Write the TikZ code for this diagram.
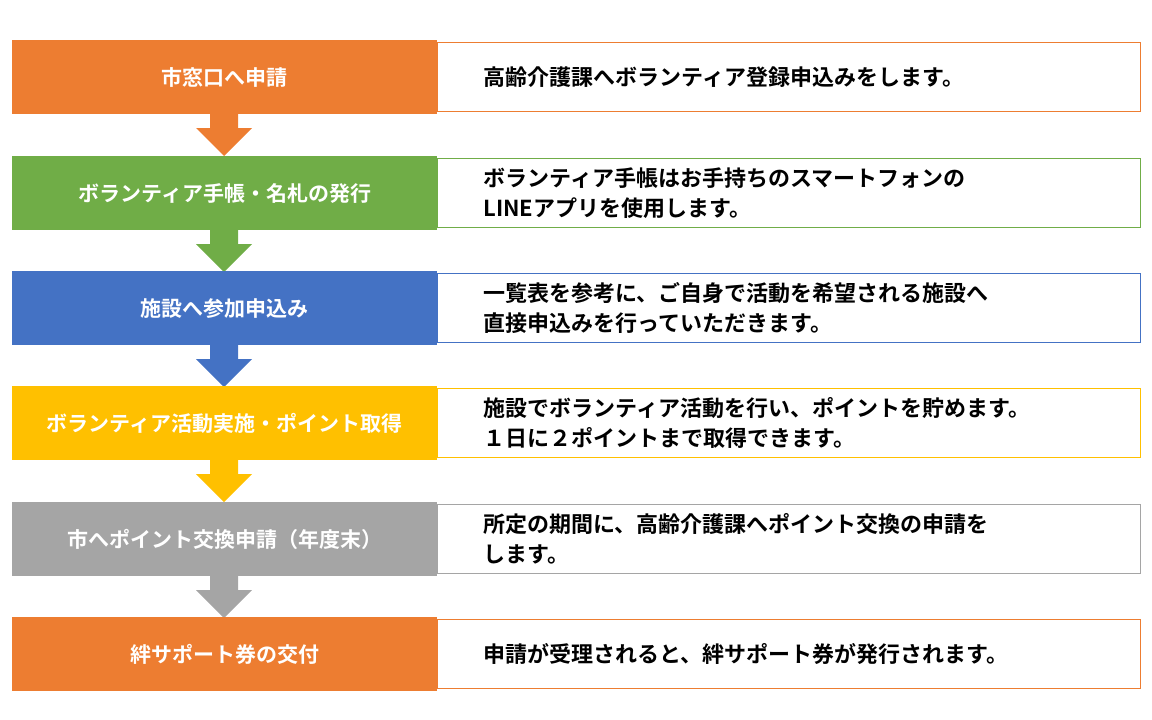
\documentclass[tikz,border=0pt]{standalone}
\usepackage{fontspec}
\setmainfont{Noto Sans CJK JP}[BoldFont={Noto Sans CJK JP Bold}]
\usetikzlibrary{positioning}
\definecolor{corange}{HTML}{ED7D31}
\definecolor{cgreen}{HTML}{70AD47}
\definecolor{cblue}{HTML}{4472C4}
\definecolor{cyellow}{HTML}{FFC000}
\definecolor{cgray}{HTML}{A5A5A5}
\begin{document}
\begin{tikzpicture}[x=1pt,y=-1pt]
    \tikzset{
      stepbox/.style={minimum width=425pt, minimum height=74pt, inner sep=0pt,
        text=white, font=\bfseries\fontsize{21}{26}\selectfont, anchor=north west},
      notebox/.style={draw, fill=white, minimum width=703pt, minimum height=69pt,
        inner sep=0pt, anchor=north west},
      notetext/.style={anchor=west, align=left, text=black,
        font=\bfseries\fontsize{22}{30}\selectfont},
    }
    \useasboundingbox (0,0) rectangle (1152,720);
    \foreach \y/\c/\t/\n [count=\i] in {
      40/corange/市窓口へ申請/高齢介護課へボランティア登録申込みをします。,
      156/cgreen/ボランティア手帳・名札の発行/{ボランティア手帳はお手持ちのスマートフォンの\\LINEアプリを使用します。},
      271/cblue/施設へ参加申込み/{一覧表を参考に、ご自身で活動を希望される施設へ\\直接申込みを行っていただきます。},
      386/cyellow/ボランティア活動実施・ポイント取得/{施設でボランティア活動を行い、ポイントを貯めます。\\１日に２ポイントまで取得できます。},
      502/cgray/市へポイント交換申請（年度末）/{所定の期間に、高齢介護課へポイント交換の申請を\\します。},
      617/corange/絆サポート券の交付/申請が受理されると、絆サポート券が発行されます。} {
      \node[notebox, draw=\c] (n\i) at (437,\y+2) {};
      \node[stepbox, fill=\c] (s\i) at (12,\y) {\t};
      \node[notetext] (t\i) at (480,\y+37) {\n};
      % arrow to next step
      \ifnum\i<6
        \fill[\c] (210,\y+74) -- (238,\y+74) -- (238,\y+88) -- (252,\y+88)
          -- (224,\y+116) -- (196,\y+88) -- (210,\y+88) -- cycle;
      \fi
    }
\end{tikzpicture}
\end{document}
